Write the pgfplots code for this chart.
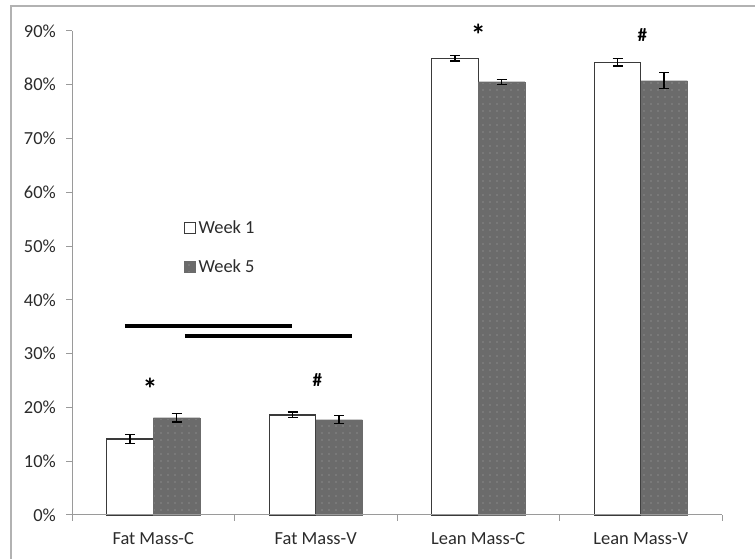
\documentclass[border=0pt]{standalone}
\usepackage{pgfplots}
\pgfplotsset{compat=1.18}
\usetikzlibrary{patterns.meta}
\usepackage{fontspec}
\setmainfont{Carlito}
\definecolor{axgray}{HTML}{9A9A9A}
\definecolor{barborder}{HTML}{3A3A3A}
\definecolor{wkfive}{HTML}{6B6B6B}
\definecolor{dotc}{HTML}{A8A8A8}
\definecolor{txt}{HTML}{2B2B2B}
\begin{document}
\begin{tikzpicture}[x=1bp,y=1bp]
\useasboundingbox (0,0) rectangle (755,559);
\draw[color=black!30, line width=1.5bp] (11,0) -- (11,553) -- (755,553);
\begin{axis}[
  at={(72bp,44bp)}, anchor=south west,
  scale only axis, width=650bp, height=484bp,
  xmin=0.5, xmax=4.5, ymin=0, ymax=90,
  axis x line=bottom, axis y line=left,
  axis line style={-, color=axgray, line width=1bp},
  tick align=outside, major tick length=6bp,
  tick style={color=axgray, line width=1bp},
  ytick={0,10,...,90},
  yticklabel={\pgfmathprintnumber{\tick}\%},
  yticklabel style={font=\fontsize{18.5}{20}\selectfont, text=txt, inner sep=0pt, xshift=-10bp},
  /pgf/number format/assume math mode=true,
  xtick={0.5,1.5,2.5,3.5,4.5},
  xticklabels={},
  extra x ticks={1,2,3,4},
  extra x tick labels={Fat Mass-C,Fat Mass-V,Lean Mass-C,Lean Mass-V},
  extra x tick style={major tick length=0pt, tick style={draw=none}},
  xticklabel style={font=\fontsize{18.5}{20}\selectfont, text=txt, yshift=-14bp},
  ybar=0pt, bar width=46.5bp,
  clip=false,
  legend style={at={(rel axis cs:0.172,0.614)}, anchor=north west, draw=none, fill=none,
     font=\fontsize{18.5}{20}\selectfont, text=txt, row sep=20bp, inner sep=0pt,
     nodes={inner sep=2.5bp}},
  legend cell align=left,
  legend image code/.code={\draw[#1] (0bp,-5.5bp) rectangle (11bp,5.5bp);},
]
\addplot[draw=barborder, fill=white, line width=1.1bp,
  error bars/.cd, y dir=both, y explicit,
  error bar style={black, line width=1.1bp},
  error mark options={rotate=90, mark size=5bp, black, line width=1.1bp}]
  coordinates {(1,14.13) +- (0,0.9) (2,18.6) +- (0,0.55) (3,84.92) +- (0,0.5) (4,84.18) +- (0,0.68)};
\addlegendentry{Week 1}
\addplot[draw=wkfive, fill=wkfive, line width=0.3bp,
  postaction={pattern={Dots[radius=0.6bp, distance=7bp]}, pattern color=dotc},
  error bars/.cd, y dir=both, y explicit,
  error bar style={black, line width=1.1bp},
  error mark options={rotate=90, mark size=5bp, black, line width=1.1bp}]
  coordinates {(1,18.09) +- (0,0.8) (2,17.72) +- (0,0.75) (3,80.57) +- (0,0.45) (4,80.76) +- (0,1.46)};
\addlegendentry{Week 5}
\draw[axgray, line width=1bp] (axis cs:0.5,0) -- (axis cs:4.5,0);
\draw[black, line width=4bp] (axis cs:0.826,35.2) -- (axis cs:1.854,35.2);
\draw[black, line width=4bp] (axis cs:1.195,33.3) -- (axis cs:2.223,33.3);
\node[font=\fontsize{30}{30}\selectfont\bfseries, anchor=center] at (axis cs:0.98,23.4) {*};
\node[font=\fontsize{19}{20}\selectfont\bfseries] at (axis cs:2.01,25.1) {\#};
\node[font=\fontsize{30}{30}\selectfont\bfseries, anchor=center] at (axis cs:3.0,89.3) {*};
\node[font=\fontsize{19}{20}\selectfont\bfseries] at (axis cs:4.01,89.2) {\#};
\end{axis}
\end{tikzpicture}
\end{document}
